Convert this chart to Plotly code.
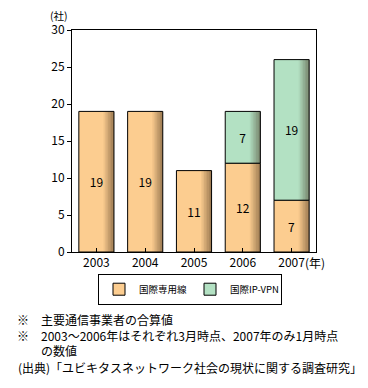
import plotly.graph_objects as go
import numpy as np

years = ["2003", "2004", "2005", "2006", "2007"]
leased = [19, 19, 11, 12, 7]
ipvpn = [0, 0, 0, 7, 19]
series_names = ["国際専用線", "国際IP-VPN"]
y_ticks = [0, 5, 10, 15, 20, 25, 30]

FONT = "Noto Sans CJK JP"
orange = "#FCCD90"
green = "#B3E1C3"
bw = 0.72

fig = go.Figure()
x_idx = list(range(len(years)))

def add_stack(vals, base, color, name):
    vals_arr = np.array(vals, dtype=float)
    base_arr = np.array(base, dtype=float)
    mask = vals_arr > 0
    xs = [x_idx[i] for i in range(len(years)) if mask[i]]
    v = vals_arr[mask].tolist()
    b = base_arr[mask].tolist()
    fig.add_trace(go.Bar(x=xs, y=v, base=b, width=bw, marker=dict(color=color, line=dict(width=0)),
                         name=name, showlegend=False, hoverinfo="skip"))
    n = 7
    sw = bw * 0.3 / n
    for k in range(n):
        off = -bw / 2 + bw * 0.7 + k * sw
        fig.add_trace(go.Bar(x=xs, y=v, base=b, width=sw, offset=off,
                             marker=dict(color="rgba(60,40,20,%.3f)" % (0.05 + 0.075 * k), line=dict(width=0)),
                             showlegend=False, hoverinfo="skip"))
    fig.add_trace(go.Bar(x=xs, y=v, base=b, width=bw, marker=dict(color="rgba(0,0,0,0)", line=dict(color="black", width=1)),
                         text=[str(int(t)) for t in v], textposition="inside", insidetextanchor="middle",
                         textfont=dict(family=FONT, size=12, color="black"), textangle=0,
                         showlegend=False, hoverinfo="skip"))
    fig.add_trace(go.Bar(x=[None], y=[None], name=name, marker=dict(color=color, line=dict(color="black", width=1)),
                         showlegend=True))

add_stack(leased, [0] * len(years), orange, series_names[0])
add_stack(ipvpn, leased, green, series_names[1])

# page body has an 8px margin, so the figure is sized 8px smaller
fig.update_layout(
    width=360, height=380,
    margin=dict(l=64, r=52, t=19, b=136),
    barmode="overlay",
    plot_bgcolor="white", paper_bgcolor="white",
    font=dict(family=FONT, size=12, color="black"),
    showlegend=True,
    legend=dict(orientation="h", x=(90 - 64) / 244, y=-(266 - 244) / 225, xanchor="left", yanchor="top",
                bordercolor="black", borderwidth=1, font=dict(size=9.5, family=FONT),
                itemwidth=30, traceorder="normal", itemclick=False, entrywidth=46,
                tracegroupgap=0),
    uniformtext=dict(minsize=12, mode="show"),
)
fig.update_xaxes(
    tickmode="array", tickvals=x_idx, ticktext=years, range=[-0.5, 4.5],
    showline=True, linecolor="black", linewidth=1, mirror=True,
    ticks="inside", tickson="boundaries", ticklen=4, tickcolor="black",
    showgrid=False, zeroline=False, tickfont=dict(size=12, family=FONT),
)
fig.update_yaxes(
    range=[0, 30], tickvals=y_ticks, showline=True, linecolor="black", linewidth=1, mirror=True,
    ticks="outside", ticklen=4, tickcolor="black", showgrid=False, zeroline=False,
    tickfont=dict(size=12, family=FONT),
)

notes = "※　主要通信事業者の合算値<br>※　2003〜2006年はそれぞれ3月時点、2007年のみ1月時点<br>　　の数値"
ann = [
    dict(text="(社)", x=0, y=1, xref="paper", yref="paper", xanchor="right", yanchor="bottom",
         xshift=-2, yshift=5, showarrow=False, font=dict(size=10.5)),
    dict(text="(年)", x=4, y=0, xref="x", yref="paper", xanchor="left", yanchor="middle",
         xshift=11, yshift=-10, showarrow=False, font=dict(size=12)),
    dict(text=notes, x=0, y=0, xref="paper", yref="paper", xanchor="left", yanchor="top",
         align="left", xshift=-57, yshift=-57, showarrow=False, font=dict(size=12)),
    dict(text="(出典)「ユビキタスネットワーク社会の現状に関する調査研究」", x=0, y=0, xref="paper", yref="paper",
         xanchor="left", yanchor="middle", xshift=-56, yshift=-115, showarrow=False, font=dict(size=12)),
]
fig.update_layout(annotations=ann)

fig.write_html("out.html")
